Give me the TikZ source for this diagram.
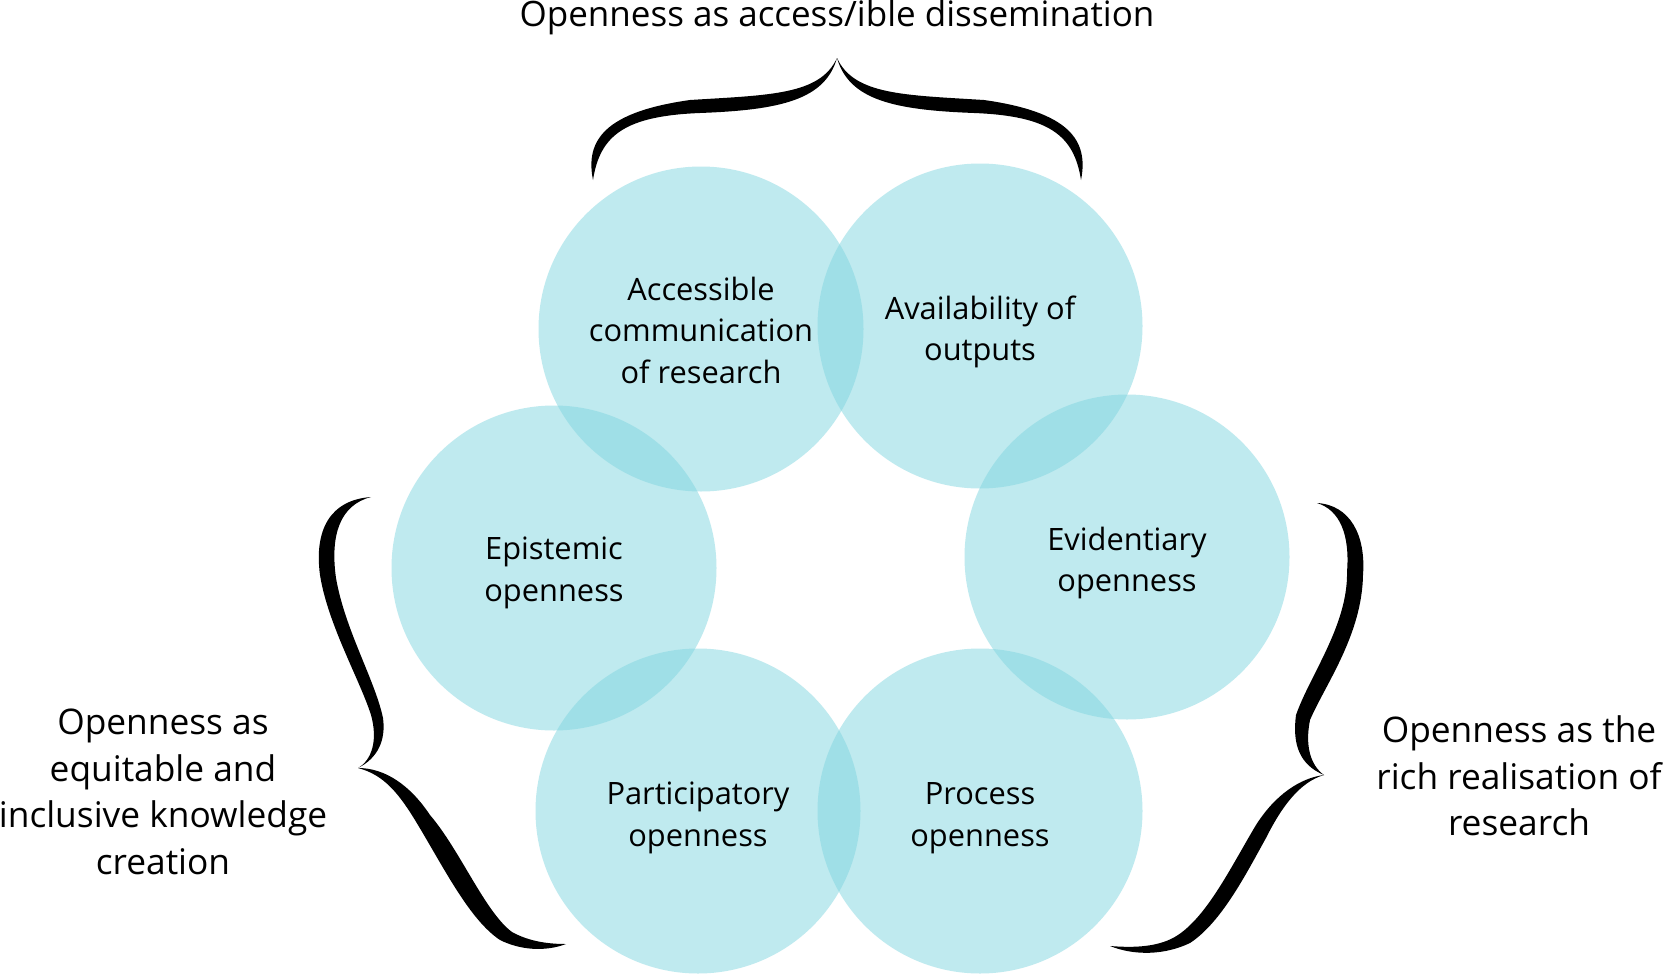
\documentclass[tikz,border=0pt]{standalone}
\usepackage{fontspec}
\setmainfont{Open Sans}
\definecolor{circ}{HTML}{80D6E0}
\begin{document}
\begin{tikzpicture}[x=1pt,y=-1pt,
  bubble/.style={circle,minimum size=325pt,inner sep=0pt,fill=circ,fill opacity=0.5,text opacity=1},
  btext/.style={align=center,font=\fontsize{30.8}{41.5}\selectfont},
  toptext/.style={align=center,font=\fontsize{35}{42}\selectfont},
  side/.style={align=center,font=\fontsize{35.3}{46.7}\selectfont},
  bracefill/.style={fill=black,draw=none}]
\useasboundingbox (0,0) rectangle (1665,977);
\fill[white] (0,0) rectangle (1665,977);
% circles
\node[bubble] (acc) at (701,329) {};
\node[bubble] (ava) at (980,326) {};
\node[bubble] (epi) at (554,568) {};
\node[bubble] (evi) at (1127,557) {};
\node[bubble] (par) at (698,811) {};
\node[bubble] (pro) at (980,811) {};
% circle texts
\node[btext] (tacc) at ([yshift=-1pt]acc.center) {Accessible\\communication\\of research};
\node[btext] (tava) at ([yshift=-6pt]ava.center) {Availability of\\outputs};
\node[btext] (tepi) at ([yshift=-5pt]epi.center) {Epistemic\\openness};
\node[btext] (tevi) at ([yshift=-6pt]evi.center) {Evidentiary\\openness};
\node[btext] (tpar) at ([yshift=-7pt]par.center) {Participatory\\openness};
\node[btext] (tpro) at ([yshift=-7pt]pro.center) {Process\\openness};
% labels
\node[toptext] (ltop) at (837,17) {Openness as access/ible dissemination};
\node[side] (lleft) at (163,792) {Openness as\\equitable and\\inclusive knowledge\\creation};
\node[side] (lright) at (1519,776) {Openness as the\\rich realisation of\\research};
% top brace
\fill[bracefill] (593,180) .. controls (585,140) and (605,112) .. (690,100)
  .. controls (770,95) and (820,95) .. (837,58)
  .. controls (825,100) and (780,110) .. (700,113)
  .. controls (625,116) and (600,135) .. (593,180) -- cycle;
\begin{scope}[xshift=1674pt,xscale=-1]
\fill[bracefill] (593,180) .. controls (585,140) and (605,112) .. (690,100)
  .. controls (770,95) and (820,95) .. (837,58)
  .. controls (825,100) and (780,110) .. (700,113)
  .. controls (625,116) and (600,135) .. (593,180) -- cycle;
\end{scope}
% left brace
\fill[bracefill] (371,497) .. controls (330,500) and (314,530) .. (320,575)
  .. controls (328,625) and (360,680) .. (371,715)
  .. controls (378,740) and (372,760) .. (358,768)
  .. controls (378,758) and (386,740) .. (383,718)
  .. controls (375,680) and (345,630) .. (336,578)
  .. controls (330,535) and (340,505) .. (371,497) -- cycle;
\fill[bracefill] (358,768) .. controls (385,768) and (410,785) .. (430,815)
  .. controls (460,850) and (485,912) .. (512,932)
  .. controls (530,942) and (550,944) .. (566,944)
  .. controls (545,952) and (520,950) .. (500,940)
  .. controls (470,920) and (445,870) .. (418,825)
  .. controls (400,795) and (385,775) .. (358,768) -- cycle;
% right brace
\fill[bracefill] (1317,503) .. controls (1350,505) and (1366,535) .. (1363,575)
  .. controls (1362,635) and (1325,685) .. (1310,720)
  .. controls (1305,745) and (1310,765) .. (1324,775)
  .. controls (1300,765) and (1292,745) .. (1296,715)
  .. controls (1310,675) and (1348,625) .. (1347,572)
  .. controls (1350,535) and (1340,510) .. (1317,503) -- cycle;
\fill[bracefill] (1324,775) .. controls (1300,778) and (1275,795) .. (1256,825)
  .. controls (1232,865) and (1208,915) .. (1178,935)
  .. controls (1160,947) and (1135,948) .. (1110,946)
  .. controls (1135,956) and (1165,955) .. (1190,943)
  .. controls (1222,922) and (1247,872) .. (1266,838)
  .. controls (1282,806) and (1300,782) .. (1324,775) -- cycle;
\end{tikzpicture}
\end{document}
